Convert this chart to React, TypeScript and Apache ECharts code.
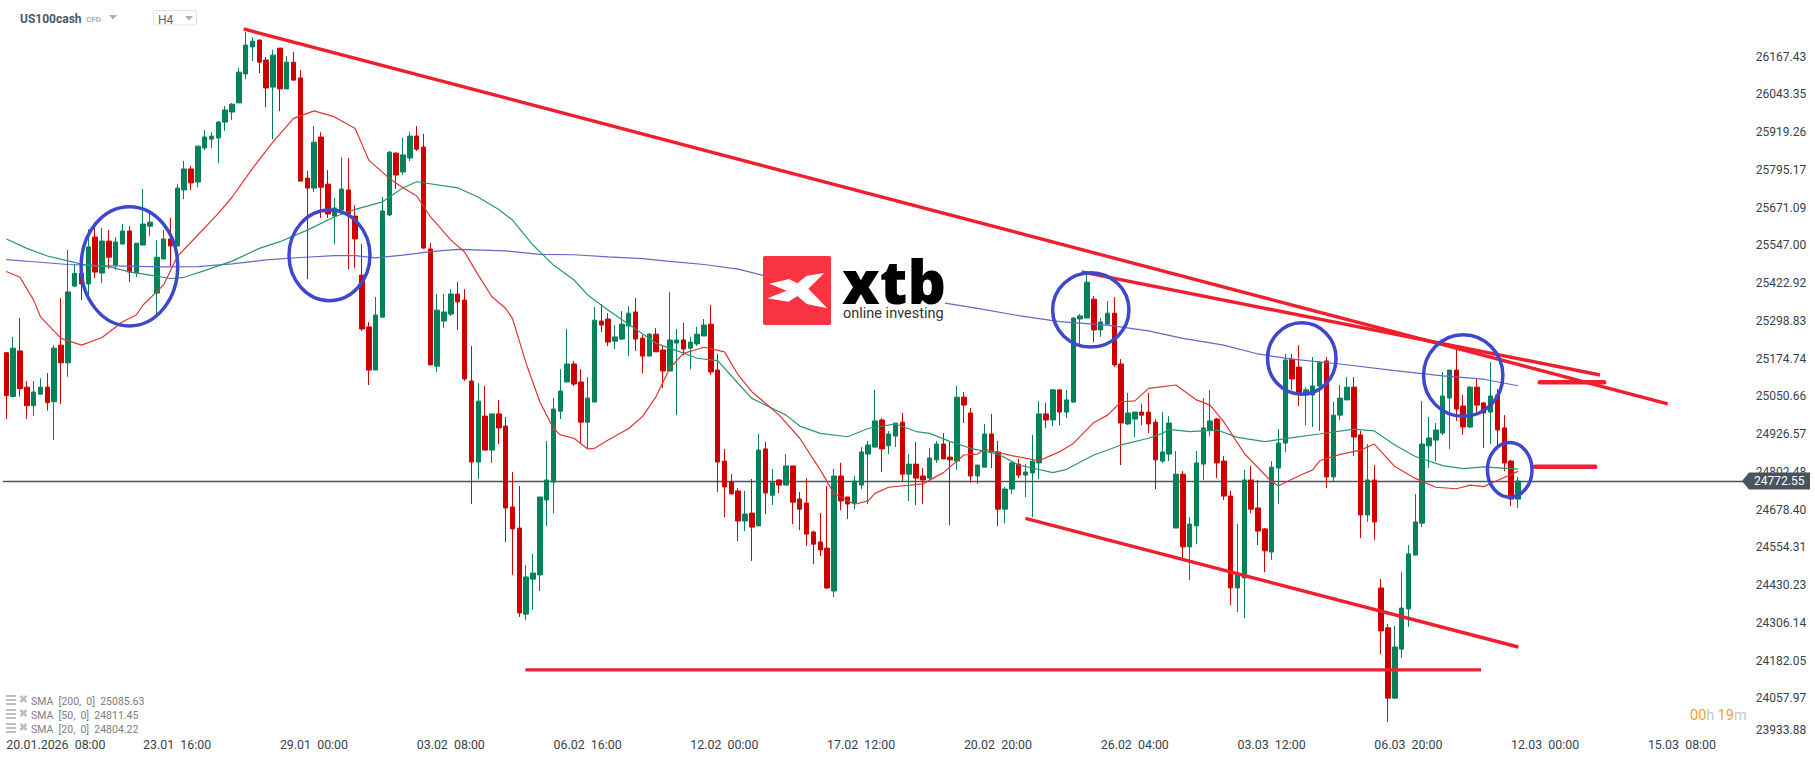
import React, { useEffect, useRef } from "react";
import * as echarts from "echarts";

const timeLabels = ["20.01.2026  08:00", "23.01  16:00", "29.01  00:00", "03.02  08:00", "06.02  16:00", "12.02  00:00", "17.02  12:00", "20.02  20:00", "26.02  04:00", "03.03  12:00", "06.03  20:00", "12.03  00:00", "15.03  08:00"];
const priceTicks = [23933.88, 24057.97, 24182.05, 24306.14, 24430.23, 24554.31, 24678.4, 24802.48, 24926.57, 25050.66, 25174.74, 25298.83, 25422.92, 25547.0, 25671.09, 25795.17, 25919.26, 26043.35, 26167.43];
const lastPrice = 24772.55;

// [open, close, low, high]
const candles = [
  [25194,25053,24976,25197],[25050,25209,25048,25246],[25200,25076,25050,25308],[25081,25020,24976,25101],[25020,25065,24987,25101],
  [25058,25081,25058,25110],[25081,25030,25004,25127],[25033,25209,24907,25219],[25219,25161,25026,25374],[25161,25394,25115,25532],
  [25413,25455,25409,25486],[25455,25420,25367,25466],[25420,25542,25378,25600],[25574,25459,25439,25623],[25456,25561,25423,25604],
  [25561,25508,25469,25597],[25482,25558,25466,25574],[25551,25594,25551,25617],[25594,25459,25426,25610],[25456,25554,25443,25554],
  [25548,25617,25548,25732],[25610,25623,25578,25663],[25390,25508,25318,25564],[25502,25568,25502,25597],[25568,25545,25479,25637],
  [25545,25735,25545,25748],[25729,25798,25699,25824],[25798,25752,25729,25808],[25755,25873,25738,25873],[25867,25903,25860,25926],
  [25896,25906,25867,25919],[25900,25952,25817,25955],[25952,25992,25923,26005],[25985,26011,25959,26015],[26015,26116,26015,26130],
  [26110,26205,26093,26248],[26199,26218,26153,26231],[26221,26149,26113,26225],[26156,26064,26001,26166],[26067,26172,25896,26189],
  [26195,26061,25988,26195],[26061,26149,26061,26169],[26149,26090,26087,26182],[26097,25758,25758,26123],[25768,25735,25436,25791],
  [25735,25886,25722,25939],[25903,25738,25637,25919],[25748,25650,25637,25794],[25643,25670,25551,25702],[25663,25732,25663,25837],
  [25729,25650,25469,25834],[25643,25568,25472,25679],[25449,25272,25265,25551],[25279,25137,25088,25295],[25137,25318,25137,25377],
  [25311,25660,25308,25706],[25647,25853,25643,25857],[25850,25778,25732,25853],[25788,25844,25778,25900],[25834,25906,25824,25919],
  [25906,25863,25857,25939],[25870,25538,25535,25913],[25535,25154,25154,25554],[25150,25334,25131,25387],[25298,25328,25275,25387],
  [25321,25387,25315,25403],[25387,25361,25269,25426],[25367,25108,25101,25403],[25101,24835,24697,25216],[24835,25035,24779,25094],
  [24986,24874,24874,25085],[24874,24993,24832,24993],[24993,24947,24894,25039],[24953,24684,24572,24983],[24687,24615,24464,24802],
  [24618,24339,24326,24756],[24335,24457,24316,24496],[24450,24470,24349,24533],[24464,24720,24411,24720],[24710,24776,24625,24904],
  [24769,25009,24667,25045],[25002,25068,24976,25140],[25098,25157,25098,25272],[25157,25091,25085,25167],[25098,24966,24894,25140],
  [24966,25045,24881,25114],[25032,25301,25032,25344],[25298,25285,25262,25354],[25305,25229,25216,25324],[25232,25246,25206,25285],
  [25239,25288,25236,25331],[25282,25324,25183,25347],[25328,25239,25200,25374],[25242,25183,25127,25252],[25183,25255,25183,25259],
  [25255,25197,25197,25275],[25203,25134,25078,25219],[25134,25236,25134,25394],[25226,25236,24989,25272],[25236,25206,25186,25292],
  [25209,25229,25140,25246],[25223,25255,25216,25279],[25249,25285,25249,25305],[25288,25131,25121,25351],[25137,24835,24736,25190],
  [24838,24753,24654,24878],[24769,24730,24730,24795],[24740,24641,24575,24749],[24641,24664,24608,24740],[24667,24621,24510,24779],
  [24625,24874,24625,24927],[24878,24733,24664,24901],[24726,24769,24694,24812],[24776,24759,24733,24779],[24759,24822,24759,24861],
  [24822,24703,24631,24822],[24713,24680,24611,24736],[24700,24598,24559,24782],[24605,24565,24500,24610],[24572,24546,24526,24667],
  [24552,24421,24418,24756],[24411,24789,24391,24812],[24789,24707,24677,24832],[24720,24697,24648,24720],[24700,24772,24680,24789],
  [24759,24868,24746,24884],[24861,24891,24697,24904],[24884,24970,24881,25072],[24973,24878,24802,24980],[24888,24927,24861,24937],
  [24920,24963,24884,24963],[24966,24795,24772,24996],[24795,24828,24707,24861],[24828,24782,24694,24901],[24789,24776,24697,24815],
  [24782,24848,24769,24881],[24842,24894,24832,24904],[24894,24845,24845,24930],[24851,24842,24628,24904],[24838,25048,24809,25085],
  [25048,25022,24963,25065],[24996,24789,24766,25012],[24789,24825,24763,24825],[24818,24927,24818,24960],[24927,24868,24815,24993],
  [24868,24680,24625,24904],[24680,24746,24634,24753],[24746,24832,24730,24838],[24828,24792,24782,24845],[24792,24802,24720,24828],
  [24799,24838,24654,24924],[24832,24993,24779,25035],[24993,24973,24947,25029],[24973,25072,24953,25075],[25072,24999,24956,25072],
  [24999,25039,24980,25072],[25032,25308,25029,25311],[25305,25315,25219,25321],[25308,25426,25308,25459],[25370,25269,25229,25380],
  [25269,25295,25246,25308],[25288,25324,25288,25364],[25324,25154,25147,25377],[25157,24963,24825,25173],[24960,24996,24956,25062],
  [24976,24999,24917,24999],[24999,24989,24956,25026],[24999,24960,24930,25062],[24966,24842,24746,24976],[24838,24868,24832,24999],
  [24861,24963,24838,24986],[24618,24795,24618,24871],[24795,24556,24519,24805],[24556,24631,24447,24654],[24625,24832,24565,24871],
  [24828,24947,24776,25045],[24940,24970,24920,25072],[24976,24832,24782,24980],[24838,24723,24710,24855],[24723,24421,24365,24740],
  [24421,24464,24342,24631],[24454,24776,24322,24809],[24776,24680,24667,24822],[24684,24608,24562,24776],[24615,24543,24473,24618],
  [24539,24818,24513,24838],[24815,24897,24697,24943],[24897,25170,24868,25190],[25173,25108,25072,25190],[25147,25062,25019,25219],
  [25055,25072,24956,25081],[25055,25085,24950,25180],[25085,25163,24937,25167],[25167,24786,24749,25180],[24786,24989,24772,25032],
  [24989,25045,24973,25088],[25039,25081,25039,25114],[25081,24917,24855,25114],[24924,24661,24585,24937],[24661,24776,24638,24894],
  [24776,24638,24579,24825],[24421,24280,24204,24450],[24290,24059,23981,24303],[24059,24227,24056,24296],[24220,24355,24191,24473],
  [24352,24533,24293,24562],[24529,24638,24529,24730],[24634,24894,24621,25035],[24888,24914,24815,24983],[24907,24940,24838,24963],
  [24930,25052,24924,25131],[25045,25137,24878,25137],[25137,25009,24970,25203],[25019,24950,24924,25055],[24950,25081,24947,25085],
  [25081,25022,24989,25108],[25029,24996,24881,25032],[24999,25052,24894,25163],[25055,24940,24878,25075],[24947,24832,24805,24989],
  [24838,24713,24690,24842],[24713,24772.55,24684,24786],
];

// [bar index, price]
const sma200 = [[0,25500],[4,25493],[9,25484],[14,25480],[19,25478],[23,25476],[28,25477],[33,25486],[38,25499],[43,25507],[48,25513],[51,25513],[54,25506],[58,25515],[62,25526],[66,25534],[73,25529],[78,25517],[83,25516],[88,25509],[93,25503],[97,25494],[102,25484],[107,25469],[111,25446],[137,25358],[142,25340],[148,25316],[154,25296],[161,25285],[167,25266],[172,25241],[178,25219],[183,25190],[188,25173],[195,25157],[203,25135],[210,25118],[216,25107],[221,25085.63]];
const sma50 = [[0,25568],[3,25537],[6,25512],[9,25496],[12,25480],[15,25477],[18,25460],[21,25449],[24,25438],[26,25442],[29,25464],[33,25495],[37,25537],[40,25559],[44,25597],[48,25641],[51,25665],[55,25690],[58,25736],[60,25756],[66,25736],[69,25705],[72,25665],[74,25630],[77,25548],[80,25482],[83,25433],[85,25384],[88,25334],[91,25288],[95,25225],[98,25201],[101,25176],[104,25168],[107,25093],[109,25044],[114,24989],[116,24953],[119,24929],[123,24918],[126,24945],[130,24960],[133,24935],[135,24929],[138,24902],[141,24880],[145,24861],[148,24825],[153,24800],[155,24811],[159,24858],[163,24891],[167,24913],[169,24929],[170,24942],[173,24935],[177,24940],[180,24916],[184,24902],[188,24915],[192,24927],[197,24943],[200,24937],[203,24891],[206,24853],[210,24823],[213,24813],[216,24819],[221,24811.45]];
const sma20 = [[0,25461],[2,25442],[4,25367],[5,25312],[8,25241],[11,25219],[14,25244],[17,25296],[19,25318],[20,25351],[23,25417],[25,25510],[28,25581],[31,25652],[33,25705],[36,25800],[39,25887],[42,25964],[45,25989],[48,25969],[51,25931],[53,25827],[56,25767],[58,25736],[60,25709],[62,25641],[65,25564],[67,25525],[69,25449],[71,25378],[73,25340],[74,25307],[76,25159],[78,25033],[80,24945],[81,24924],[83,24913],[85,24878],[86,24880],[88,24907],[91,24945],[93,24984],[95,25050],[97,25143],[99,25192],[102,25212],[105,25197],[107,25121],[109,25066],[113,24989],[116,24913],[119,24809],[121,24732],[124,24696],[126,24707],[127,24732],[129,24752],[134,24763],[137,24800],[140,24858],[142,24861],[143,24877],[147,24856],[151,24839],[154,24869],[156,24896],[159,24965],[161,24989],[163,25033],[165,25036],[167,25077],[171,25088],[174,25039],[176,25022],[178,24967],[181,24863],[185,24770],[186,24757],[189,24790],[191,24809],[192,24839],[195,24860],[198,24874],[200,24894],[203,24820],[206,24781],[209,24752],[212,24747],[214,24759],[216,24754],[218,24774],[221,24804.22]];

// Drawn annotations, [bar index, price] at both ends
const trendLines = [
  [[34.7,26258],[242.9,25026]],
  [[157.2,25460],[233,25121]],
  [[149,24650],[221.05,24227]],
  [[75.9,24152],[215.6,24152]],
];
const levelMarks = [
  [[224.2,25097],[233.6,25097]],
  [[223.5,24819],[232.3,24819]],
];
// [bar index, price, radius in bars, radius in price]
const circles = [
  [18,25478,7.06,196],
  [47.25,25514,5.92,148.9],
  [158.55,25335,5.58,122.2],
  [189.4,25175,5.01,117.6],
  [213,25119,5.8,134],
  [219.8,24809,3.26,89.7],
];
const legendLabels = ["SMA  [200,  0]  25085.63", "SMA  [50,  0]  24811.45", "SMA  [20,  0]  24804.22"];

const BAR = 6.84;
const CATS = 255;
const FONT = "Roboto, sans-serif";
const RED = "#f01f2e";

export default function App() {
  const ref = useRef<HTMLDivElement>(null);
  useEffect(() => {
    const chart = echarts.init(ref.current!, null, { renderer: "svg" });
    const categories = Array.from({ length: CATS }, (_, i) => (i % 20 === 0 ? timeLabels[i / 20] ?? "" : ""));
    const lineSeries = (data: number[][], color: string, width: number, extra: any = {}) => ({
      type: "line", xAxisIndex: 1, yAxisIndex: 0, data, symbol: "none", silent: true, clip: false,
      lineStyle: { color, width, ...extra }, z: 4,
    });
    const logoX = [988,1047,1072,1100,1153,1105,1162,1100,1072,1045,982,1040];
    const logoY = [491,477,490,467,459,506,565,552,528,545,535,512];
    const legendGraphics: any[] = [];
    legendLabels.forEach((t, i) => {
      const y = 695 + i * 14;
      [0, 4, 8].forEach((d) => legendGraphics.push({ type: "rect", shape: { x: 6, y: y + d, width: 10, height: 2 }, style: { fill: "#bdbdbd" }, z: 20 }));
      legendGraphics.push({ type: "line", shape: { x1: 20.5, y1: y + 1, x2: 26.5, y2: y + 7 }, style: { stroke: "#bdbdbd", lineWidth: 2.5 }, z: 20 });
      legendGraphics.push({ type: "line", shape: { x1: 26.5, y1: y + 1, x2: 20.5, y2: y + 7 }, style: { stroke: "#bdbdbd", lineWidth: 2.5 }, z: 20 });
      legendGraphics.push({ type: "text", x: 31, y: y + 6, style: { text: t, fill: "#7d7d7d", font: `10.5px ${FONT}`, textVerticalAlign: "middle" }, z: 20 });
    });

    const option: any = {
      animation: false,
      backgroundColor: "#ffffff",
      grid: { left: 2.88, top: 10, width: BAR * CATS, height: 726.2, containLabel: false },
      xAxis: [
        {
          type: "category", data: categories, boundaryGap: true,
          axisLine: { show: false }, axisTick: { show: false }, splitLine: { show: false },
          axisLabel: { interval: (i: number) => i % 20 === 0, align: "left", margin: 2, fontFamily: FONT, fontSize: 12.4, color: "#37424c", showMinLabel: true, hideOverlap: false },
        },
        { type: "value", show: false, min: -0.5, max: CATS - 0.5 },
      ],
      yAxis: [{
        type: "value", position: "right", min: 23933.88, max: 26320.35, scale: true,
        axisLine: { show: false }, axisTick: { show: false }, splitLine: { show: false },
        axisLabel: {
          customValues: priceTicks, formatter: (v: number) => v.toFixed(2), margin: 8.7, align: "left",
          fontFamily: FONT, fontSize: 12, color: "#37424c", verticalAlignMinLabel: "bottom",
        },
      }],
      series: [
        {
          type: "line", xAxisIndex: 0, yAxisIndex: 0, data: [], silent: true, symbol: "none",
          markLine: {
            silent: true, symbol: "none", z: 1, animation: false, label: { show: false },
            lineStyle: { color: "#4a555f", width: 1.3, type: "solid" },
            data: [{ yAxis: lastPrice }],
          },
        },
        {
          type: "candlestick", xAxisIndex: 0, yAxisIndex: 0, data: candles, barWidth: 5, silent: true, z: 3,
          itemStyle: { color: "#06825a", color0: "#cf0000", borderColor: "#06825a", borderColor0: "#cf0000", borderWidth: 1 },
        },
        lineSeries(sma200, "#6369c4", 1.2),
        lineSeries(sma50, "#2a9674", 1.2),
        lineSeries(sma20, "#dd3534", 1.2),
        ...trendLines.map((d) => lineSeries(d, RED, 3.4)),
        ...levelMarks.map((d) => lineSeries(d, RED, 4.5, { cap: "round" })),
        {
          type: "custom", xAxisIndex: 1, yAxisIndex: 0, data: circles, silent: true, z: 6, clip: false,
          encode: { x: 0, y: 1 },
          renderItem: (_p: any, api: any) => {
            const c = api.coord([api.value(0), api.value(1)]);
            const e = api.coord([api.value(0) + api.value(2), api.value(1) + api.value(3)]);
            return {
              type: "ellipse",
              shape: { cx: c[0], cy: c[1], rx: Math.abs(e[0] - c[0]), ry: Math.abs(e[1] - c[1]) },
              style: { fill: "none", stroke: "#3f48cc", lineWidth: 3.5 },
            };
          },
        },
      ],
      graphic: [],
    };
    chart.setOption(option);

    const py = chart.convertToPixel({ yAxisIndex: 0 }, lastPrice) as number;
    chart.setOption({
      graphic: [
        { type: "text", x: 20, y: 18.5, style: { text: "US100cash", fill: "#4b5865", font: `bold 12px ${FONT}`, textVerticalAlign: "middle" }, z: 20 },
        { type: "text", x: 86, y: 19.5, style: { text: "CFD", fill: "#a9b0b6", font: `bold 8px ${FONT}`, textVerticalAlign: "middle" }, z: 20 },
        { type: "polygon", shape: { points: [[109, 15], [117, 15], [113, 19.5]] }, style: { fill: "#a9b0b6" }, z: 20 },
        { type: "rect", shape: { x: 153.5, y: 10.5, width: 43, height: 14.5, r: 2 }, style: { fill: "#fff", stroke: "#dfe2e5", lineWidth: 1 }, z: 20 },
        { type: "text", x: 158, y: 19.5, style: { text: "H4", fill: "#5b6670", font: `12px ${FONT}`, textVerticalAlign: "middle" }, z: 21 },
        { type: "polygon", shape: { points: [[185, 16], [193, 16], [189, 20.5]] }, style: { fill: "#a9b0b6" }, z: 21 },
        ...legendGraphics,
        { type: "rect", shape: { x: 831, y: 256, width: 114, height: 69 }, style: { fill: "#fff" }, z: 20 },
        { type: "rect", shape: { x: 763, y: 256, width: 68, height: 69, r: 2 }, style: { fill: "#f93342" }, z: 21 },
        { type: "polygon", shape: { points: logoX.map((x, i) => [440 + x / 3, 120 + logoY[i] / 3]) }, style: { fill: "#ffffff" }, z: 22 },
        { type: "text", x: 842, y: 281, style: { text: "xtb", fill: "#000000", font: `800 60px "Open Sans", sans-serif`, textVerticalAlign: "middle", lineHeight: 44 }, z: 22 },
        { type: "text", x: 843, y: 313, style: { text: "online investing", fill: "#333333", font: `14.5px ${FONT}`, textVerticalAlign: "middle" }, z: 22 },
        { type: "text", x: 1690, y: 715, style: { rich: { a: { fill: "#f7a128", font: `14.5px ${FONT}` }, b: { fill: "#c3c7cb", font: `14.5px ${FONT}` } }, text: "{a|00}{b|h} {a|19}{b|m}", textVerticalAlign: "middle" }, z: 20 },
        { type: "polygon", shape: { points: [[1742, py], [1749, py - 8.5], [1810, py - 8.5], [1810, py + 8.5], [1749, py + 8.5]] }, style: { fill: "#48555f" }, z: 20 },
        { type: "text", x: 1754, y: py + 0.5, style: { text: lastPrice.toFixed(2), fill: "#ffffff", font: `12px ${FONT}`, textVerticalAlign: "middle" }, z: 21 },
      ],
    });
    return () => chart.dispose();
  }, []);
  return <div ref={ref} style={{ position: "fixed", left: 0, top: 0, width: 1815, height: 761, background: "#fff" }} />;
}
